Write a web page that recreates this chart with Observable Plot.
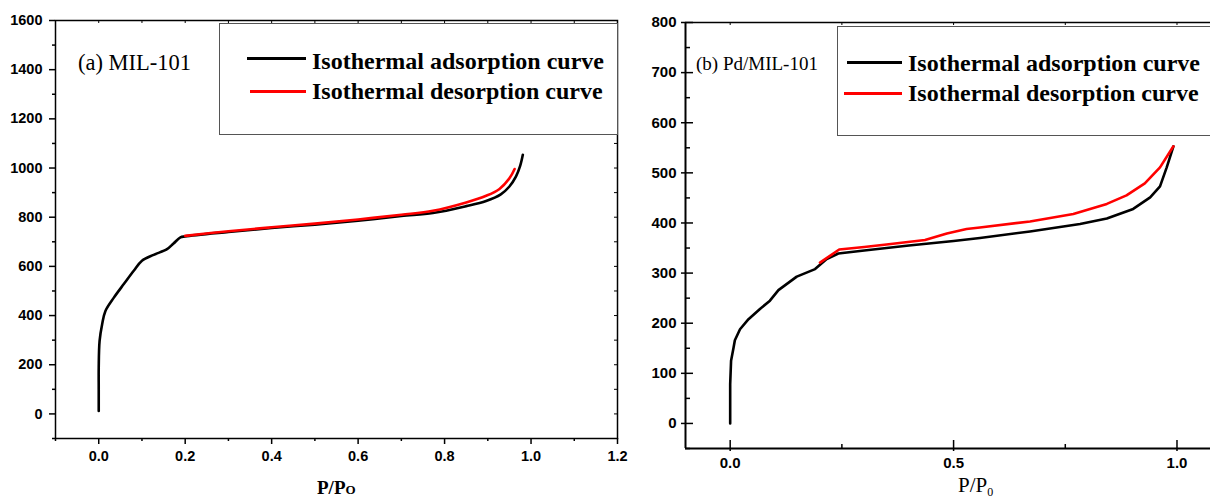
<!DOCTYPE html>
<html>
<head>
<meta charset="utf-8">
<script src="https://cdn.jsdelivr.net/npm/d3@7"></script>
<script src="https://cdn.jsdelivr.net/npm/@observablehq/plot@0.6"></script>
<style>
  html, body { margin: 0; padding: 0; background: #fff; }
  #wrap { position: relative; width: 1210px; height: 500px; overflow: hidden; }
  #wrap > svg, #wrap > figure { position: absolute; top: 0; }
  .ov { position: absolute; white-space: nowrap; color: #000; }
  .legend { position: absolute; border: 1px solid #555; background: #fff; box-sizing: border-box; }
  .lt { position: absolute; font-family: "Liberation Serif", "Times New Roman", serif; font-weight: bold; font-size: 24px; line-height: 24px; white-space: nowrap; }
  .sw { position: absolute; height: 3px; }
</style>
</head>
<body>
<div id="wrap"></div>
<script>
// ---------- Panel (a) MIL-101 ----------
const adsA_x = [0.000, 0.000, 0.000, 0.002, 0.008, 0.0155, 0.035, 0.058, 0.081, 0.100, 0.127, 0.158, 0.173, 0.189, 0.200, 0.300, 0.400, 0.500, 0.600, 0.700, 0.773, 0.850, 0.896, 0.930, 0.950, 0.965, 0.975, 0.981];
const adsA_y = [12, 100, 188, 297, 366, 419, 473, 528, 582, 623, 647, 670, 693, 718, 722, 740, 756, 770, 786, 805, 817, 845, 866, 893, 925, 965, 1010, 1054];
const desA_x = [0.200, 0.300, 0.400, 0.500, 0.600, 0.700, 0.773, 0.850, 0.896, 0.927, 0.950, 0.962];
const desA_y = [724, 743, 759, 774, 791, 810, 826, 860, 887, 915, 958, 996];
const xDomainA = [-0.1, 1.2];
const yDomainA = [-100, 1600];
const xMajorA = [0, 0.2, 0.4, 0.6, 0.8, 1.0, 1.2];
const xMinorA = [-0.1, 0.1, 0.3, 0.5, 0.7, 0.9, 1.1];
const yMajorA = [0, 200, 400, 600, 800, 1000, 1200, 1400, 1600];
const yMinorA = [-100, 100, 300, 500, 700, 900, 1100, 1300, 1500];

// ---------- Panel (b) Pd/MIL-101 ----------
const adsB_x = [0, 0, 0.002, 0.0075, 0.0105, 0.022, 0.041, 0.066, 0.089, 0.108, 0.149, 0.190, 0.216, 0.242, 0.300, 0.400, 0.500, 0.559, 0.671, 0.783, 0.843, 0.902, 0.940, 0.962, 0.977, 0.992];
const adsB_y = [0, 78, 125, 151, 166, 188, 208, 228, 245, 266, 293, 308, 328, 339, 345, 355, 364, 370, 383, 398, 409, 428, 451, 473, 511, 553];
const desB_x = [0.201, 0.244, 0.300, 0.350, 0.436, 0.485, 0.529, 0.559, 0.671, 0.768, 0.843, 0.887, 0.928, 0.962, 0.992];
const desB_y = [321, 347, 352, 357, 366, 379, 388, 391, 403, 418, 438, 455, 479, 511, 553];
const xDomainB = [-0.1, 1.075];
const yDomainB = [-50, 800];
const xMajorB = [0, 0.5, 1.0];
const xMinorB = [0.25, 0.75];
const yMajorB = [0, 100, 200, 300, 400, 500, 600, 700, 800];
const yMinorB = [-50, 50, 150, 250, 350, 450, 550, 650, 750];

const seriesNames = ["Isothermal adsorption curve", "Isothermal desorption curve"];
const seriesColors = ["#000000", "#ff0000"];

const zip = (xs, ys) => xs.map((x, i) => ({x, y: ys[i]}));

// ----- Panel A -----
const WA = 620, HA = 500, mLA = 55, mRA = 3, mTA = 20, mBA = 62;
const pwA = WA - mLA - mRA, phA = HA - mTA - mBA;
const plotA = Plot.plot({
  width: WA, height: HA,
  marginLeft: mLA, marginRight: mRA, marginTop: mTA, marginBottom: mBA,
  x: {domain: xDomainA},
  y: {domain: yDomainA},
  style: {fontFamily: "'Liberation Sans', Arial, sans-serif", fontWeight: "bold", fontSize: "14.5px", color: "#000", background: "transparent", overflow: "visible"},
  marks: [
    Plot.frame({stroke: "#000", strokeWidth: 1.5}),
    Plot.axisY(yMajorA, {tickSize: 6, tickPadding: 7, tickFormat: d => String(d), strokeWidth: 1.5, label: null}),
    Plot.tickY(yMinorA, {y: d => d, insetLeft: -3, insetRight: pwA, stroke: "#000", strokeWidth: 1.5}),
    Plot.axisX(xMajorA, {tickSize: 6, tickPadding: 6, tickFormat: d3.format(".1f"), strokeWidth: 1.5, label: null}),
    Plot.tickX(xMinorA, {x: d => d, insetTop: phA, insetBottom: -3, stroke: "#000", strokeWidth: 1.5}),
    // mirrored inner ticks on top and right
    Plot.tickX(xMajorA.concat(xMinorA), {x: d => d, insetBottom: phA - 3, stroke: "#000", strokeWidth: 1}),
    Plot.tickY(yMajorA.concat(yMinorA), {y: d => d, insetLeft: pwA - 3, stroke: "#000", strokeWidth: 1}),
    Plot.line(zip(adsA_x, adsA_y), {x: "x", y: "y", stroke: seriesColors[0], strokeWidth: 2.6, curve: "catmull-rom"}),
    Plot.line(zip(desA_x, desA_y), {x: "x", y: "y", stroke: seriesColors[1], strokeWidth: 2.6, curve: "catmull-rom"})
  ]
});

// ----- Panel B -----
const WB = 590, HB = 500, mLB = 65, mRB = 0, mTB = 22, mBB = 52;
const pwB = WB - mLB - mRB, phB = HB - mTB - mBB;
const plotB = Plot.plot({
  width: WB, height: HB,
  marginLeft: mLB, marginRight: mRB, marginTop: mTB, marginBottom: mBB,
  x: {domain: xDomainB},
  y: {domain: yDomainB},
  style: {fontFamily: "'Liberation Sans', Arial, sans-serif", fontWeight: "bold", fontSize: "15px", color: "#000", background: "transparent", overflow: "visible"},
  marks: [
    Plot.ruleX([xDomainB[0]], {stroke: "#000", strokeWidth: 2}),
    Plot.ruleY([yDomainB[0]], {stroke: "#000", strokeWidth: 2}),
    Plot.ruleY([yDomainB[1]], {stroke: "#000", strokeWidth: 1.5}),
    Plot.axisY(yMajorB, {tickSize: 4, tickPadding: 5, tickFormat: d => String(d), strokeWidth: 1.5, label: null}),
    Plot.tickY(yMajorB, {y: d => d, insetRight: pwB - 8, stroke: "#000", strokeWidth: 1.5}),
    Plot.tickY(yMinorB, {y: d => d, insetRight: pwB - 5, stroke: "#000", strokeWidth: 1.5}),
    Plot.axisX(xMajorB, {tickSize: 3, tickPadding: 6, tickFormat: d3.format(".1f"), strokeWidth: 1.5, label: null}),
    Plot.tickX(xMajorB, {x: d => d, insetTop: phB - 8, stroke: "#000", strokeWidth: 1.5}),
    Plot.tickX(xMinorB, {x: d => d, insetTop: phB - 4, stroke: "#000", strokeWidth: 1.5}),
    Plot.tickX(xMajorB.concat(xMinorB), {x: d => d, insetBottom: phB - 3, stroke: "#000", strokeWidth: 1}),
    Plot.line(zip(adsB_x, adsB_y), {x: "x", y: "y", stroke: seriesColors[0], strokeWidth: 2.6}),
    Plot.line(zip(desB_x, desB_y), {x: "x", y: "y", stroke: seriesColors[1], strokeWidth: 2.6})
  ]
});

const wrap = document.getElementById("wrap");
plotA.style.left = "0px";
plotB.style.left = "620px";
wrap.appendChild(plotA);
wrap.appendChild(plotB);

function addDiv(cls, css, html) {
  const d = document.createElement("div");
  d.className = cls;
  Object.assign(d.style, css);
  if (html != null) d.innerHTML = html;
  wrap.appendChild(d);
  return d;
}

// Legends
function legend(box, items) {
  const b = addDiv("legend", {left: box.left + "px", top: box.top + "px", width: box.w + "px", height: box.h + "px"});
  items.forEach(it => {
    const sw = document.createElement("div");
    sw.className = "sw";
    Object.assign(sw.style, {left: it.sx + "px", width: it.sw + "px", top: (it.ly - 1.5) + "px", background: it.color});
    b.appendChild(sw);
    const t = document.createElement("div");
    t.className = "lt";
    Object.assign(t.style, {left: it.tx + "px", top: (it.ty - 19) + "px"});
    t.textContent = it.text;
    b.appendChild(t);
  });
}
legend({left: 219, top: 23, w: 399, h: 112}, [
  {sx: 27, sw: 59, ly: 34, tx: 92, ty: 44, color: seriesColors[0], text: seriesNames[0]},
  {sx: 30, sw: 56, ly: 67, tx: 92, ty: 74, color: seriesColors[1], text: seriesNames[1]}
]);
legend({left: 837, top: 26, w: 400, h: 110}, [
  {sx: 9, sw: 55, ly: 35, tx: 70, ty: 43, color: seriesColors[0], text: seriesNames[0]},
  {sx: 6, sw: 58, ly: 66, tx: 70, ty: 73, color: seriesColors[1], text: seriesNames[1]}
]);

// Panel labels
addDiv("ov", {left: "78px", top: "49px", fontFamily: "'Liberation Serif', 'Times New Roman', serif", fontSize: "22.5px", lineHeight: "28px"}, "(a) MIL-101");
addDiv("ov", {left: "696px", top: "52px", fontFamily: "'Liberation Serif', 'Times New Roman', serif", fontSize: "19px", lineHeight: "24px"}, "(b) Pd/MIL-101");

// Axis titles
addDiv("ov", {left: "317px", top: "477px", fontFamily: "'Liberation Serif', 'Times New Roman', serif", fontWeight: "bold", fontSize: "19px", lineHeight: "22px"}, "P/P<span style='font-size:13px'>O</span>");
addDiv("ov", {left: "958px", top: "474px", fontFamily: "'Liberation Serif', 'Times New Roman', serif", fontSize: "21px", lineHeight: "22px"}, "P/P<sub style='font-size:12px;vertical-align:-4px;line-height:0'>0</sub>");
</script>
</body>
</html>
